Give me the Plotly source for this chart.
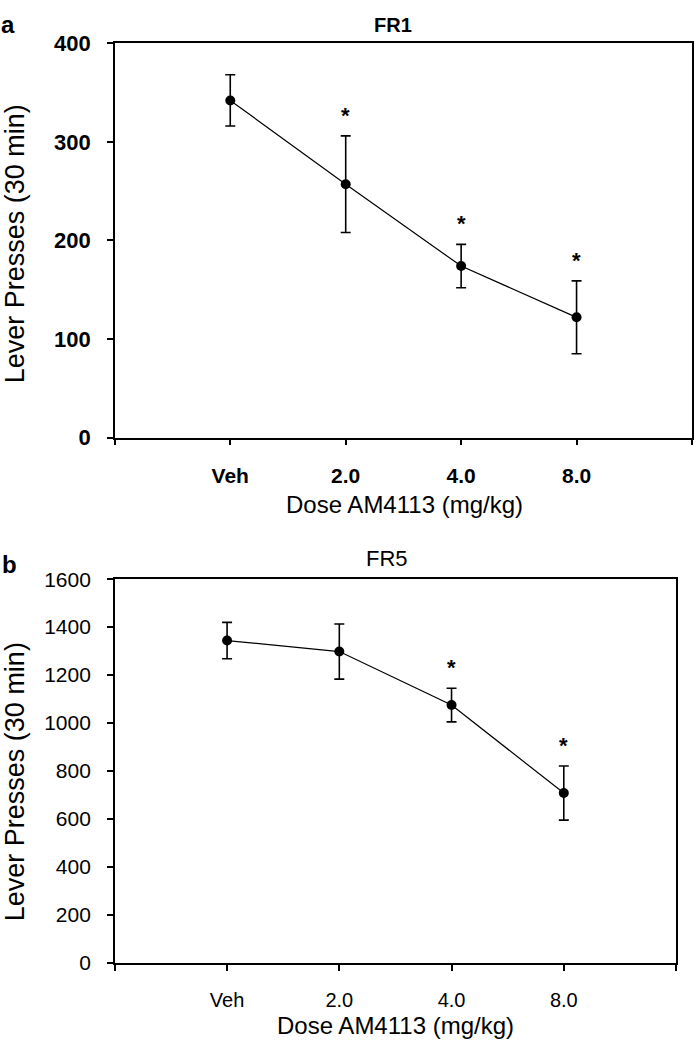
import plotly.graph_objects as go

# ---- data ----
doses = ["Veh", "2.0", "4.0", "8.0"]
fr1_mean = [342, 257, 174, 122]
fr1_err = [26, 49, 22, 37]
fr1_sig = [False, True, True, True]
fr5_mean = [1344, 1298, 1075, 708]
fr5_err = [76, 115, 70, 113]
fr5_sig = [False, False, True, True]
fr1_yticks = [0, 100, 200, 300, 400]
fr5_yticks = [0, 200, 400, 600, 800, 1000, 1200, 1400, 1600]

W, H = 694, 1050
FONT = "Liberation Sans, Arial, sans-serif"
xpos = list(range(1, len(doses) + 1))
xtickvals = list(range(0, len(doses) + 2))
xticktext = [""] + doses + [""]

def px_x(p):
    return p / W

def px_y(p):
    return 1 - p / H

fig = go.Figure()

for mean, err, xa, ya in [(fr1_mean, fr1_err, "x", "y"), (fr5_mean, fr5_err, "x2", "y2")]:
    fig.add_trace(go.Scatter(
        x=xpos, y=mean, xaxis=xa, yaxis=ya, mode="lines+markers",
        line=dict(color="black", width=1.2),
        marker=dict(color="black", size=10, symbol="circle"),
        error_y=dict(type="data", array=err, visible=True, color="black",
                     thickness=1.6, width=5),
        showlegend=False, hoverinfo="skip",
    ))

for mean, err, sig, xa, ya in [(fr1_mean, fr1_err, fr1_sig, "x", "y"),
                               (fr5_mean, fr5_err, fr5_sig, "x2", "y2")]:
    for xi, m, e, s in zip(xpos, mean, err, sig):
        if s:
            fig.add_annotation(x=xi, y=m + e, xref=xa, yref=ya, text="<b>*</b>",
                               showarrow=False, yanchor="bottom", yshift=6,
                               font=dict(family=FONT, size=22, color="black"))

axis_common = dict(showline=True, linecolor="black", linewidth=1.5, mirror=True,
                   ticks="outside", tickcolor="black", tickwidth=1.5, ticklen=6,
                   showgrid=False, zeroline=False)

fig.update_layout(
    width=W, height=H, margin=dict(l=0, r=0, t=0, b=0),
    paper_bgcolor="white", plot_bgcolor="white",
    xaxis=dict(domain=[px_x(115), px_x(693)], anchor="y", range=[0, len(doses) + 1],
               tickvals=xtickvals, ticktext=xticktext, ticklabelstandoff=12,
               tickfont=dict(family=FONT, size=21, color="black", weight="bold"),
               **axis_common),
    yaxis=dict(domain=[px_y(436), px_y(32)], anchor="x", range=[0, 400],
               tickvals=fr1_yticks, ticklabelstandoff=12,
               tickfont=dict(family=FONT, size=22, color="black", weight="bold"),
               **axis_common),
    xaxis2=dict(domain=[px_x(115), px_x(677)], anchor="y2", range=[0, len(doses) + 1],
                tickvals=xtickvals, ticktext=xticktext, ticklabelstandoff=12,
                tickfont=dict(family=FONT, size=20, color="black"),
                **axis_common),
    yaxis2=dict(domain=[px_y(974), px_y(581)], anchor="x2", range=[0, 1600],
                tickvals=fr5_yticks, ticklabelstandoff=12,
                tickfont=dict(family=FONT, size=21, color="black"),
                **axis_common),
)

def txt(x, y, text, size, bold=False, angle=0):
    fig.add_annotation(x=px_x(x), y=px_y(y), xref="paper", yref="paper",
                       text=f"<b>{text}</b>" if bold else text, showarrow=False,
                       xanchor="center", yanchor="middle", textangle=angle,
                       font=dict(family=FONT, size=size, color="black"))

txt(8, 13, "a", 24, bold=True)
txt(10, 566, "b", 24, bold=True)
txt(394, 13, "FR1", 20, bold=True)
txt(388, 560, "FR5", 22)
txt(405, 505, "Dose AM4113 (mg/kg)", 24)
txt(396, 1038, "Dose AM4113 (mg/kg)", 24)
txt(15, 237, "Lever Presses (30 min)", 27, angle=-90)
txt(15, 788, "Lever Presses (30 min)", 27, angle=-90)

fig.write_html("out.html", config={"displayModeBar": False},
               post_script="document.body.style.margin='0';document.body.style.overflow='hidden';")
